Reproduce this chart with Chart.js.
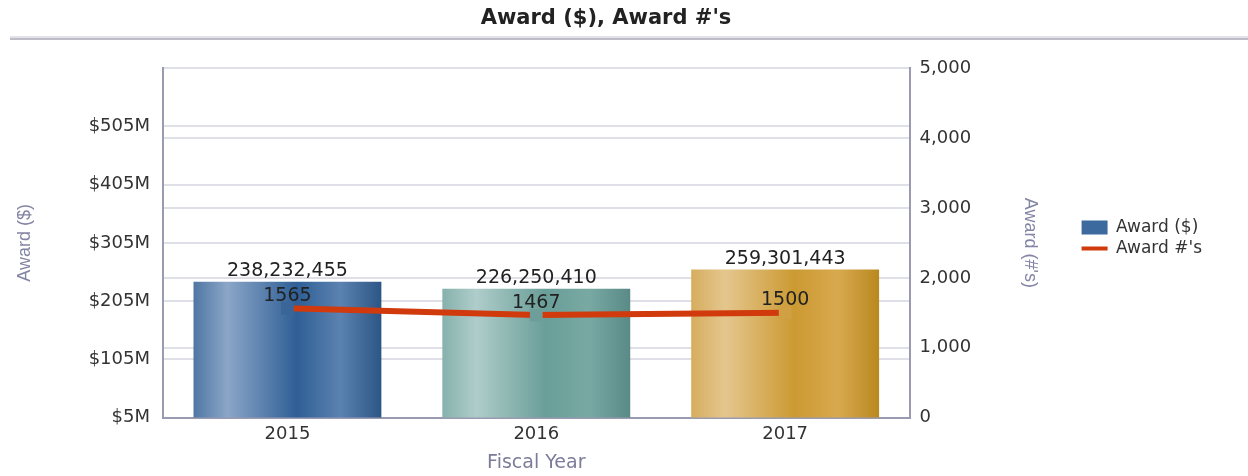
<!DOCTYPE html>
<html>
<head>
<meta charset="utf-8">
<script src="https://cdn.jsdelivr.net/npm/chart.js@4"></script>
<style>
  body { margin: 0; background: #fff; }
  #wrap { width: 1248px; height: 476px; position: relative; }
</style>
</head>
<body>
<div id="wrap"><canvas id="award-chart"></canvas></div>
<script>
// data
var fiscalYears = ['2015', '2016', '2017'];
var awardDollars = [238232455, 226250410, 259301443];
var awardCounts = [1565, 1467, 1500];
var leftTicksM = [5, 105, 205, 305, 405, 505, 605]; // $M, top one unlabelled
var rightTicks = [0, 1000, 2000, 3000, 4000, 5000];

// per-bar gradient stops (left -> right)
var barGradients = [
    ['#4f76a4', '#8ba6c7', '#2f5f96', '#5b82b0', '#2c5686'],
    ['#86b1ac', '#afcdca', '#6a9e98', '#79a9a3', '#5a8a86'],
    ['#d6ad5e', '#e4c68e', '#cc9a32', '#d8a94f', '#b9881f']
];
var gradientStops = [0, 0.18, 0.55, 0.78, 1];
var markerColors = ['#3a6598', '#6d9e99', '#d0a042'];
var lineColor = '#d03a0c';
var barPct = 0.755;

function barFill(context) {
    var chart = context.chart;
    var i = context.dataIndex;
    var xScale = chart.scales.x;
    if (!chart.chartArea || !xScale || i === undefined) return barGradients[0][2];
    var center = xScale.getPixelForValue(i);
    var half = xScale.width / fiscalYears.length * barPct / 2;
    var g = chart.ctx.createLinearGradient(center - half, 0, center + half, 0);
    gradientStops.forEach(function (s, k) {
        g.addColorStop(s, barGradients[i][k]);
    });
    return g;
}

// title underline + white background
var titleRule = {
    id: 'titleRule',
    beforeDraw: function (chart) {
        var ctx = chart.ctx;
        ctx.save();
        ctx.fillStyle = '#fff';
        ctx.fillRect(0, 0, chart.width, chart.height);
        ctx.fillStyle = '#e2e2e8';
        ctx.fillRect(10, 36, chart.width - 10, 2);
        ctx.fillStyle = '#bdbdc8';
        ctx.fillRect(10, 38, chart.width - 10, 2);
        ctx.restore();
    }
};

// value labels above bars and line points
var valueLabels = {
    id: 'valueLabels',
    afterDatasetsDraw: function (chart) {
        var ctx = chart.ctx;
        ctx.save();
        ctx.font = '19px "DejaVu Sans"';
        ctx.fillStyle = '#222';
        ctx.textAlign = 'center';
        ctx.textBaseline = 'bottom';
        chart.getDatasetMeta(0).data.forEach(function (bar, i) {
            ctx.fillText(awardDollars[i].toLocaleString('en-US'), bar.x, bar.y - 1);
        });
        chart.getDatasetMeta(1).data.forEach(function (pt, i) {
            ctx.fillText(String(awardCounts[i]), pt.x, pt.y - 3);
        });
        ctx.restore();
    }
};

var tickFont = { family: 'DejaVu Sans', size: 18 };
var axisLine = { display: true, color: '#9a9ab2', width: 2 };

var ctx = document.getElementById('award-chart').getContext('2d');
var chart = new Chart(ctx, {
    type: 'bar',
    data: {
        labels: fiscalYears,
        datasets: [{
            type: 'bar',
            label: 'Award ($)',
            data: awardDollars,
            yAxisID: 'y',
            backgroundColor: barFill,
            borderWidth: 0,
            categoryPercentage: barPct,
            barPercentage: 1,
            order: 1
        }, {
            type: 'line',
            label: "Award #'s",
            data: awardCounts,
            yAxisID: 'y1',
            borderColor: lineColor,
            borderWidth: 6,
            tension: 0,
            pointStyle: 'rect',
            pointRadius: 9,
            pointBorderWidth: 0,
            pointBackgroundColor: markerColors,
            order: 0
        }]
    },
    options: {
        responsive: true,
        maintainAspectRatio: false,
        animation: false,
        layout: { padding: { left: 0, right: 36, top: 0, bottom: 0 } },
        plugins: {
            title: {
                display: true,
                text: "Award ($), Award #'s",
                color: '#222',
                font: { family: 'DejaVu Sans', size: 21, weight: 'bold' },
                padding: { top: 6, bottom: 37 }
            },
            legend: {
                position: 'right',
                maxWidth: 142,
                labels: {
                    usePointStyle: true,
                    pointStyleWidth: 26,
                    boxHeight: 14,
                    padding: 4,
                    color: '#333',
                    font: { family: 'DejaVu Sans', size: 17, lineHeight: 1 },
                    generateLabels: function (chart) {
                        return chart.data.datasets.map(function (ds, i) {
                            var isLine = ds.type === 'line';
                            return {
                                text: ds.label,
                                fillStyle: isLine ? lineColor : '#3d6a9e',
                                strokeStyle: isLine ? lineColor : '#3d6a9e',
                                lineWidth: isLine ? 4 : 0,
                                pointStyle: isLine ? 'line' : 'rect',
                                fontColor: '#333',
                                hidden: false,
                                datasetIndex: i
                            };
                        });
                    }
                }
            },
            tooltip: { enabled: false }
        },
        scales: {
            x: {
                grid: { display: false, drawTicks: false },
                border: axisLine,
                ticks: { color: '#333', font: tickFont, padding: 6 },
                title: {
                    display: true,
                    text: 'Fiscal Year',
                    color: '#7b7c99',
                    font: { family: 'DejaVu Sans', size: 19 },
                    padding: { top: 0, bottom: 2 }
                }
            },
            y: {
                position: 'left',
                min: 5e6,
                max: 605e6,
                afterBuildTicks: function (scale) {
                    scale.ticks = leftTicksM.map(function (v) { return { value: v * 1e6 }; });
                },
                afterFit: function (scale) { scale.width = 163; },
                grid: { color: '#dfdfe7', lineWidth: 2, drawTicks: false },
                border: axisLine,
                ticks: {
                    color: '#333',
                    font: tickFont,
                    padding: 13,
                    callback: function (v) {
                        var m = Math.round(v / 1e6);
                        return m === leftTicksM[leftTicksM.length - 1] ? '' : '$' + m + 'M';
                    }
                },
                title: {
                    display: true,
                    text: 'Award ($)',
                    color: '#8485a5',
                    font: { family: 'Liberation Sans', size: 18 },
                    padding: { top: 14, bottom: 0 }
                }
            },
            y1: {
                position: 'right',
                min: 0,
                max: 5000,
                afterBuildTicks: function (scale) {
                    scale.ticks = rightTicks.map(function (v) { return { value: v }; });
                },
                afterFit: function (scale) { scale.width = 168; },
                grid: { color: '#dfdfe7', lineWidth: 2, drawTicks: false },
                border: axisLine,
                ticks: {
                    color: '#333',
                    font: tickFont,
                    padding: 10,
                    callback: function (v) { return v.toLocaleString('en-US'); }
                },
                title: {
                    display: true,
                    text: "Award (#'s)",
                    color: '#8485a5',
                    font: { family: 'Liberation Sans', size: 18 },
                    padding: { top: 37, bottom: 0 }
                }
            }
        }
    },
    plugins: [titleRule, valueLabels]
});
</script>
</body>
</html>
